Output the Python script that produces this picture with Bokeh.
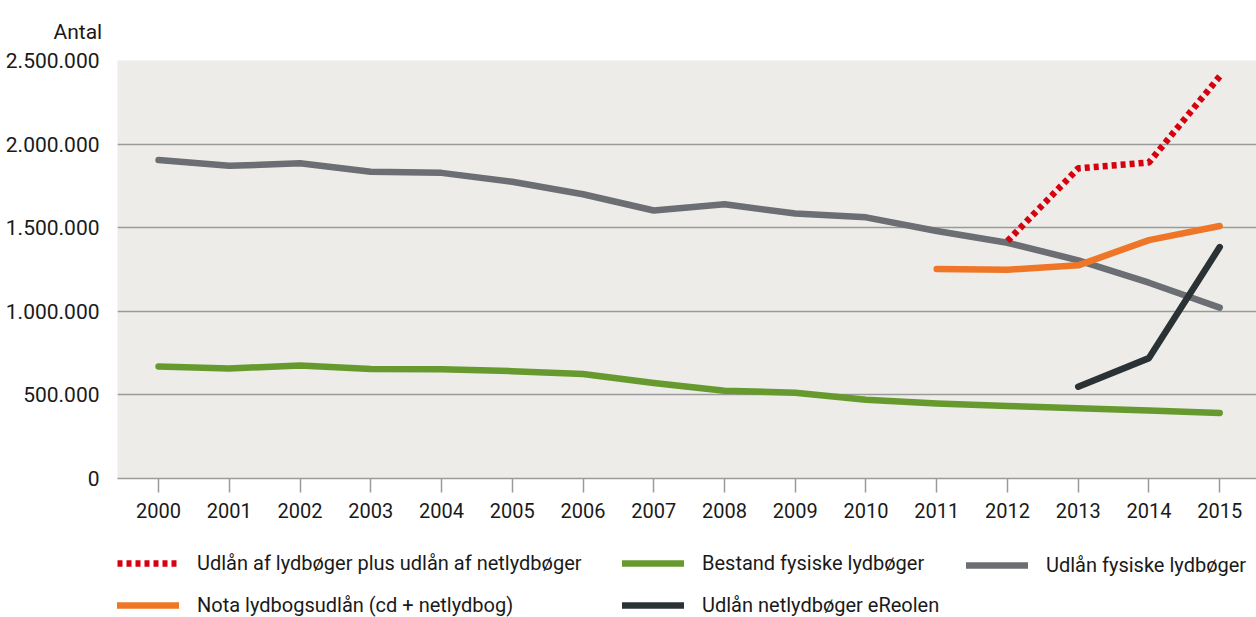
from bokeh.plotting import figure
from bokeh.layouts import column
from bokeh.models import Range1d, FixedTicker, Legend, LegendItem, Title
from bokeh.embed import file_html
from bokeh.resources import INLINE

years = list(range(2000, 2016))

udlaan_fysiske = [1905000, 1870000, 1885000, 1835000, 1828000, 1775000, 1700000, 1603000,
                  1640000, 1585000, 1562000, 1480000, 1410000, 1305000, 1171000, 1022000]
bestand_fysiske = [670000, 658000, 676000, 655000, 653000, 642000, 625000, 571000,
                   525000, 513000, 471000, 449000, 434000, 420000, 406000, 392000]
nota_years = [2011, 2012, 2013, 2014, 2015]
nota = [1253000, 1249000, 1275000, 1426000, 1510000]
ereolen_years = [2013, 2014, 2015]
ereolen = [549000, 720000, 1384000]
plus_years = [2012, 2013, 2014, 2015]
plus = [1420000, 1855000, 1890000, 2405000]

y_ticks = [0, 500000, 1000000, 1500000, 2000000, 2500000]
y_tick_labels = ["0", "500.000", "1.000.000", "1.500.000", "2.000.000", "2.500.000"]

labels = {
    "plus": "Udlån af lydbøger plus udlån af netlydbøger",
    "bestand": "Bestand fysiske lydbøger",
    "udlaan": "Udlån fysiske lydbøger",
    "nota": "Nota lydbogsudlån (cd + netlydbog)",
    "ereolen": "Udlån netlydbøger eReolen",
}

RED = "#D7000F"
GREEN = "#679A2E"
GRAY = "#6B6E72"
ORANGE = "#EF7627"
DARK = "#2A3236"
FONT = "Roboto"
TXT = "#1a1a1a"
LW = 6.5

styles = {
    "plus": dict(line_color=RED, line_width=LW, line_dash="5 4"),
    "bestand": dict(line_color=GREEN, line_width=LW, line_cap="round", line_join="round"),
    "udlaan": dict(line_color=GRAY, line_width=LW, line_cap="round", line_join="round"),
    "nota": dict(line_color=ORANGE, line_width=LW, line_cap="round", line_join="round"),
    "ereolen": dict(line_color=DARK, line_width=LW, line_cap="round", line_join="round"),
}

p = figure(width=1256, height=530, output_backend="svg", toolbar_location=None,
           x_range=Range1d(1999.42, 2015.52), y_range=Range1d(0, 2500000),
           min_border_left=117, min_border_right=0, min_border_top=59, min_border_bottom=52)
p.background_fill_color = "#EDECE8"
p.border_fill_color = "white"
p.outline_line_color = None

p.line(years, udlaan_fysiske, **styles["udlaan"])
p.line(years, bestand_fysiske, **styles["bestand"])
p.line(nota_years, nota, **styles["nota"])
p.line(ereolen_years, ereolen, **styles["ereolen"])
p.line(plus_years, plus, **styles["plus"])

# axes
p.xaxis.ticker = FixedTicker(ticks=years)
p.xaxis.axis_line_color = "#9a9a9a"
p.xaxis.axis_line_width = 1.5
p.xaxis.major_tick_line_color = "#9a9a9a"
p.xaxis.major_tick_line_width = 1.5
p.xaxis.major_tick_out = 14
p.xaxis.major_tick_in = 0
p.xaxis.minor_tick_line_color = None
p.xaxis.major_label_standoff = 10
p.xaxis.major_label_text_font = FONT
p.xaxis.major_label_text_font_size = "20px"
p.xaxis.major_label_text_color = TXT

p.yaxis.ticker = FixedTicker(ticks=y_ticks)
p.yaxis.major_label_overrides = dict(zip(y_ticks, y_tick_labels))
p.yaxis.axis_line_color = None
p.yaxis.major_tick_line_color = None
p.yaxis.minor_tick_line_color = None
p.yaxis.major_label_standoff = 12
p.yaxis.major_label_text_font = FONT
p.yaxis.major_label_text_font_size = "21px"
p.yaxis.major_label_text_color = TXT

p.xgrid.grid_line_color = None
p.ygrid.grid_line_color = "#9a9a9a"
p.ygrid.grid_line_width = 1.5

p.add_layout(Title(text="Antal", align="left", offset=-64, text_font=FONT,
                   text_font_size="21px", text_font_style="normal", text_color=TXT,
                   standoff=34), "above")

# legend strip below the chart (its frame is aligned with the chart's frame)
lg = figure(width=1256, height=87, output_backend="svg", toolbar_location=None,
            x_range=Range1d(0, 1), y_range=Range1d(0, 1),
            x_axis_location=None, y_axis_location=None,
            min_border_left=0, min_border_right=0, min_border_top=0, min_border_bottom=0)
lg.outline_line_color = None
lg.grid.visible = False
lg.background_fill_color = "white"
lg.border_fill_color = "white"

nan = float("nan")
keys = ["plus", "nota", "bestand", "ereolen", "udlaan"]
rend = {k: lg.line(x=[nan], y=[nan], **styles[k]) for k in keys}

def add_legend(ks, vx, vy):
    L = Legend(items=[LegendItem(label=labels[k], renderers=[rend[k]]) for k in ks],
               location=(vx, vy), orientation="vertical",
               glyph_width=62, glyph_height=22, label_height=22, label_standoff=18,
               spacing=18, padding=0, margin=0,
               label_text_font=FONT, label_text_font_size="20px", label_text_color=TXT,
               background_fill_alpha=0, border_line_color=None)
    lg.add_layout(L)

add_legend(["plus", "nota"], 0, 0)
add_legend(["bestand", "ereolen"], 505, 0)
add_legend(["udlaan"], 849, 40)

layout = column(p, lg, spacing=0)
open("out.html", "w").write(file_html(layout, INLINE))
